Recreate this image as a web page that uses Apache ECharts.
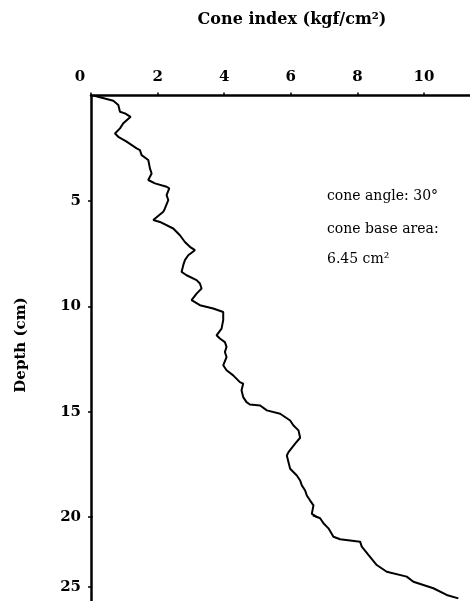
<!DOCTYPE html>
<html>
<head>
<meta charset="utf-8">
<script src="https://cdn.jsdelivr.net/npm/echarts@6/dist/echarts.min.js"></script>
<style>
html,body{margin:0;padding:0;background:#fff;}
#chart{width:470px;height:601px;}
</style>
</head>
<body>
<div id="chart"></div>
<script>
// Cone index (kgf/cm²), paired with depth (cm)
const coneIndex = [0.07,0.67,0.82,0.87,1.02,1.19,0.97,0.87,0.72,0.82,1.07,1.37,1.47,1.52,1.72,1.77,1.82,1.72,1.92,2.27,2.35,2.27,2.32,2.22,2.17,1.87,2.07,2.47,2.67,2.82,2.97,3.12,2.92,2.82,2.77,2.72,2.87,3.17,3.27,3.32,3.17,3.02,3.27,3.67,3.97,3.97,3.92,3.77,3.87,4.02,4.07,4.02,4.07,3.97,4.07,4.27,4.47,4.57,4.52,4.57,4.67,4.77,5.08,5.28,5.68,5.98,6.08,6.23,6.28,6.13,5.93,5.88,5.93,5.98,6.18,6.28,6.33,6.43,6.48,6.58,6.68,6.63,6.88,6.98,7.13,7.28,7.48,8.08,8.13,8.33,8.58,8.88,9.48,9.68,10.28,10.68,11.03];
const depth = [0,0.25,0.45,0.77,0.85,1.01,1.32,1.56,1.80,1.96,2.19,2.51,2.59,2.83,3.06,3.46,3.70,4.01,4.17,4.33,4.41,4.73,4.96,5.36,5.52,5.91,6.00,6.31,6.63,6.95,7.18,7.34,7.58,7.81,8.05,8.37,8.53,8.76,8.92,9.16,9.40,9.71,9.95,10.11,10.27,10.66,11.06,11.38,11.53,11.70,11.93,12.17,12.41,12.80,13.04,13.28,13.60,13.67,13.99,14.31,14.55,14.66,14.71,14.94,15.10,15.42,15.66,15.89,16.24,16.52,16.92,17.08,17.40,17.71,18.03,18.27,18.50,18.74,18.98,19.22,19.45,19.85,20.09,20.45,20.81,21.41,21.59,21.76,22.12,22.71,23.43,23.91,24.26,24.62,25.09,25.57,25.81];
const xTicks = [0,2,4,6,8,10];
const depthTicksUpper = [5,10,15,20];
const depthTicksLower = [25];
const titleText = 'Cone index (kgf/cm²)';
const yName = 'Depth (cm)';
const notes = ['cone angle: 30°','cone base area:','6.45 cm²'];

const pts = coneIndex.map((c,i)=>[c, depth[i]]);
const FONT = 'DejaVu Serif';
const axisLineStyle = {color:'#000', width:2.5};
const labelBase = {color:'#000', fontFamily:FONT, fontSize:15, fontWeight:'bold'};

const chart = echarts.init(document.getElementById('chart'), null, {renderer:'canvas'});
chart.setOption({
  animation:false,
  backgroundColor:'#fff',
  title:{text:titleText, left:287, top:7, textAlign:'center',
    textStyle:{color:'#000', fontFamily:FONT, fontSize:16, fontWeight:'bold'}},
  grid:[
    {left:91, top:95.5, width:379, height:421.5},
    {left:91, top:517, width:379, height:84}
  ],
  xAxis:[
    {gridIndex:0, type:'value', position:'top', min:0, max:11.38,
     axisLine:{show:true, lineStyle:axisLineStyle},
     axisTick:{show:true, inside:false, length:3, lineStyle:{color:'#000', width:1.5}, customValues:xTicks},
     splitLine:{show:false},
     axisLabel:Object.assign({}, labelBase, {margin:11, customValues:xTicks,
        formatter:v=> v===0 ? '{z|0}' : String(v),
        rich:{z:{color:'#000', fontFamily:FONT, fontSize:15, fontWeight:'bold', padding:[0,22,0,0]}}})},
    {gridIndex:1, type:'value', min:0, max:11.38, show:false}
  ],
  yAxis:[
    {gridIndex:0, type:'value', inverse:true, min:0, max:20,
     axisLine:{show:true, lineStyle:axisLineStyle},
     axisTick:{show:true, length:3, lineStyle:{color:'#000', width:1.5}, customValues:depthTicksUpper},
     splitLine:{show:false},
     axisLabel:Object.assign({}, labelBase, {margin:10, customValues:depthTicksUpper})},
    {gridIndex:1, type:'value', inverse:true, min:20, max:26,
     axisLine:{show:true, lineStyle:axisLineStyle},
     axisTick:{show:true, length:3, lineStyle:{color:'#000', width:1.5}, customValues:depthTicksLower},
     splitLine:{show:false},
     axisLabel:Object.assign({}, labelBase, {margin:10, customValues:depthTicksLower})}
  ],
  series:[
    {type:'line', xAxisIndex:0, yAxisIndex:0, data:pts, showSymbol:false, symbol:'none', clip:true,
     lineStyle:{color:'#000', width:2}},
    {type:'line', xAxisIndex:1, yAxisIndex:1, data:pts, showSymbol:false, symbol:'none', clip:true,
     lineStyle:{color:'#000', width:2}}
  ],
  graphic:[
    {type:'text', x:21, y:345, rotation:Math.PI/2,
     style:{text:yName, fill:'#000', font:'bold 15px "DejaVu Serif"', align:'center', verticalAlign:'middle'}},
    {type:'text', x:327, y:196, style:{text:notes[0], fill:'#000', font:'14px "DejaVu Serif"', align:'left', verticalAlign:'middle'}},
    {type:'text', x:327, y:229, style:{text:notes[1], fill:'#000', font:'14px "DejaVu Serif"', align:'left', verticalAlign:'middle'}},
    {type:'text', x:327, y:259, style:{text:notes[2], fill:'#000', font:'14px "DejaVu Serif"', align:'left', verticalAlign:'middle'}}
  ]
});
</script>
</body>
</html>
